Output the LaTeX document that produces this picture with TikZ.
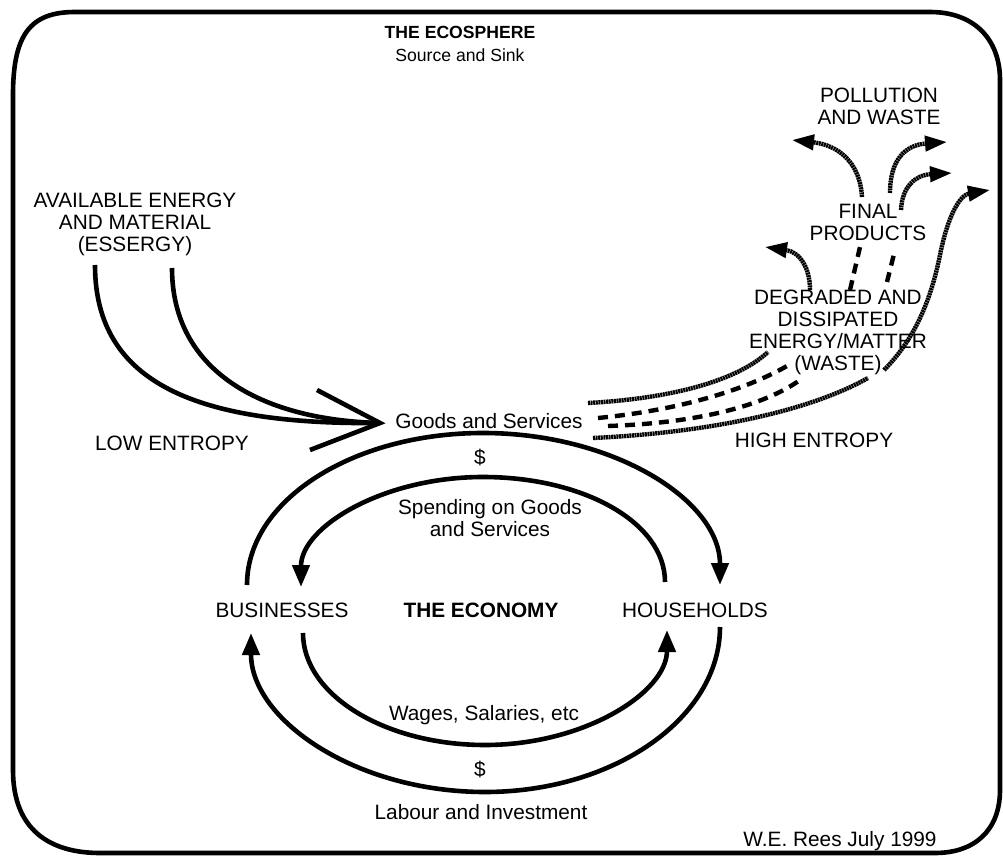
\documentclass[tikz,border=0pt]{standalone}
\usepackage{fontspec}
\setmainfont{Liberation Sans}
\usetikzlibrary{arrows.meta}

\tikzset{
  lbl/.style={inner sep=0pt, align=center, font=\fontsize{10.4}{11}\selectfont},
  title/.style={inner sep=0pt, align=center, font=\fontsize{8.8}{10}\selectfont\bfseries},
  flow/.style={line width=2.3pt},
  hatch/.style={line width=2.2pt, dash pattern=on 1pt off 0.3pt},
  brokenflow/.style={line width=2.2pt, dash pattern=on 5pt off 3.5pt},
  ecotip/.style={-{Triangle[length=11pt,width=8.5pt]}},
  hatchtip/.style={-{Triangle[length=11pt,width=7.5pt]}},
}

\begin{document}
\begin{tikzpicture}[x=0.5pt, y=-0.5pt]
  \useasboundingbox (0,0) rectangle (1003,856);

  %% the ecosphere
  \draw[line width=2.3pt] (13,95) .. controls (13,35) and (30,12) .. (75,12) -- (930,12)
    .. controls (975,12) and (1000,40) .. (1000,80) -- (1000,790)
    .. controls (1000,830) and (975,853) .. (935,853) -- (100,853)
    .. controls (50,853) and (13,830) .. (13,770) -- cycle;

  \node[title] (ecosphere) at (460,32) {THE ECOSPHERE};
  \node[lbl, font=\fontsize{8.8}{10}\selectfont] (sink) at (460,55) {Source and Sink};

  %% low entropy input
  \node[lbl] (essergy) at (135,224) {AVAILABLE ENERGY\\AND MATERIAL\\(ESSERGY)};
  \node[lbl] (lowent) at (172,443) {LOW ENTROPY};
  \node[lbl] (goods) at (489,421) {Goods and Services};

  \coordinate (gsin) at (380,423);
  \coordinate (ess1) at (95,265);
  \coordinate (ess2) at (172,268);
  \draw[flow] (ess1) .. controls (95,385) and (200,425) .. (gsin);
  \draw[flow] (ess2) .. controls (172,370) and (260,420) .. (gsin);
  \draw[flow, miter limit=20] (317,390) -- (gsin) -- (310,450);

  %% the economy
  \node[lbl] (business) at (282,610) {BUSINESSES};
  \node[lbl, font=\fontsize{10.4}{11}\selectfont\bfseries] (economy) at (481,610) {THE ECONOMY};
  \node[lbl] (households) at (695,610) {HOUSEHOLDS};
  \node[lbl] (dollartop) at (480,458) {\$};
  \node[lbl] (spending) at (490,518) {Spending on Goods\\and Services};
  \node[lbl] (wages) at (484,715) {Wages, Salaries, etc};
  \node[lbl] (dollarbot) at (480,770) {\$};
  \node[lbl] (labour) at (481,812) {Labour and Investment};

  \coordinate (bsTop) at (247,585);
  \coordinate (hhTop) at (720,585);
  \coordinate (hhIn) at (665,582);
  \coordinate (bsIn) at (301,587);
  \coordinate (bsLow) at (303,633);
  \coordinate (hhLow) at (667,630);
  \coordinate (hhOut) at (720,627);
  \coordinate (bsOut) at (251,633);

  \draw[flow, ecotip] (bsTop) .. controls (247,500) and (353,433) .. (483,433)
    .. controls (613,433) and (720,500) .. (hhTop); %% goods B->H
  \draw[flow, ecotip] (hhIn) .. controls (665,522) and (583,477) .. (483,477)
    .. controls (383,477) and (301,527) .. (bsIn); %% spending H->B
  \draw[flow, ecotip] (bsLow) .. controls (303,695) and (385,745) .. (485,745)
    .. controls (585,745) and (667,692) .. (hhLow); %% wages B->H
  \draw[flow, ecotip] (hhOut) .. controls (720,718) and (614,792) .. (485,792)
    .. controls (356,792) and (251,720) .. (bsOut); %% labour H->B

  %% high entropy output
  \draw[hatch] (593,438) .. controls (720,432) and (815,408) .. (868,378);
  \draw[hatch, hatchtip] (884,370) .. controls (912,342) and (930,305) .. (940,255)
    .. controls (948,215) and (960,195) .. (990,190);
  \draw[hatch] (588,403) .. controls (680,398) and (740,378) .. (768,352);
  \draw[hatch, hatchtip] (810,290) .. controls (810,268) and (800,252) .. (765,247);

  \draw[brokenflow] (598,418) .. controls (680,410) and (745,390) .. (787,366);
  \draw[brokenflow] (608,426) .. controls (700,423) and (765,405) .. (800,380);
  \draw[brokenflow] (850,290) -- (860,247);
  \draw[brokenflow] (887,282) -- (895,250);

  \draw[hatch, hatchtip] (862,197) .. controls (860,162) and (838,145) .. (792,140);
  \draw[hatch, hatchtip] (890,193) .. controls (890,160) and (905,145) .. (947,142);
  \draw[hatch, hatchtip] (901,210) .. controls (902,187) and (915,175) .. (952,173);

  \node[lbl] (highent) at (814,440) {HIGH ENTROPY};
  \node[lbl] (pollution) at (879,106) {POLLUTION\\AND WASTE};
  \node[lbl] (final) at (868,222) {FINAL\\PRODUCTS};
  \node[lbl] (waste) at (838,332) {DEGRADED AND\\DISSIPATED\\ENERGY/MATTER\\(WASTE)};

  \node[lbl] (rees) at (840,841) {W.E. Rees July 1999};
\end{tikzpicture}
\end{document}
